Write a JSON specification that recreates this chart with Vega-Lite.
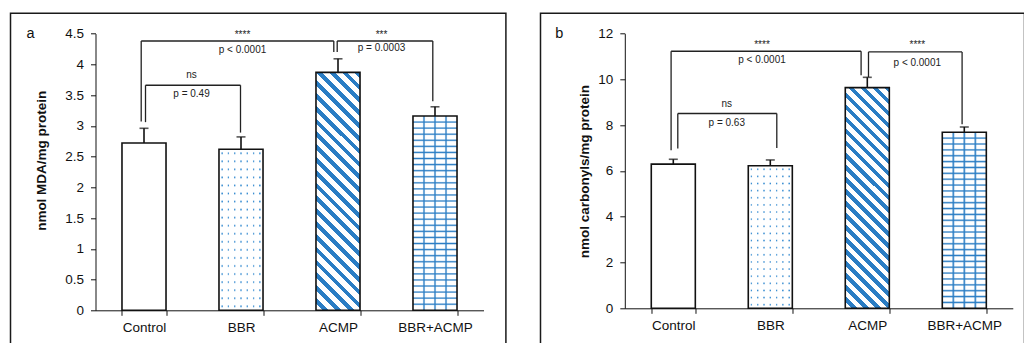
{
"$schema":"https://vega.github.io/schema/vega-lite/v6.json",
"padding":{"left":9.5,"top":12.3,"right":0,"bottom":0},
"background":"white",
"bounds":"flush",
"spacing":34,
"config":{
 "view":{"stroke":"#1a1a1a","strokeWidth":1.5},
 "font":"Liberation Sans",
 "axis":{"grid":false,"domainColor":"#111","tickColor":"#111","tickSize":5,"labelColor":"#111","labelFont":"Liberation Sans","labelFontSize":13.5,"titleFont":"Liberation Sans","titleColor":"#111","titleFontSize":13.5,"titleFontWeight":"bold"}
},
"datasets":{
 "barsA":[{"group":"Control","mean":2.72,"upper":2.96},{"group":"BBR","mean":2.62,"upper":2.82},{"group":"ACMP","mean":3.87,"upper":4.09},{"group":"BBR+ACMP","mean":3.16,"upper":3.31}],
 "barsB":[{"group":"Control","mean":6.30,"upper":6.51},{"group":"BBR","mean":6.23,"upper":6.48},{"group":"ACMP","mean":9.64,"upper":10.09},{"group":"BBR+ACMP","mean":7.69,"upper":7.92}],
 "brA":[{"id":"B1","from":"Control","to":"ACMP","level":4.38,"fromEnd":3.07,"toEnd":4.2},{"id":"B2","from":"ACMP","to":"BBR+ACMP","level":4.38,"fromEnd":4.2,"toEnd":3.4},{"id":"B3","from":"Control","to":"BBR","level":3.66,"fromEnd":3.06,"toEnd":2.89}],
 "brB":[{"id":"B1","from":"Control","to":"ACMP","level":11.23,"fromEnd":6.9,"toEnd":10.18},{"id":"B2","from":"ACMP","to":"BBR+ACMP","level":11.2,"fromEnd":10.1,"toEnd":8.04},{"id":"B3","from":"Control","to":"BBR","level":8.51,"fromEnd":6.98,"toEnd":7.0}],
 "txA":[{"id":"B1","from":"Control","label":"****","level":4.47},{"id":"B1","from":"Control","label":"p < 0.0001","level":4.23},{"id":"B2","from":"ACMP","label":"***","level":4.47},{"id":"B2","from":"ACMP","label":"p = 0.0003","level":4.26},{"id":"B3","from":"Control","label":"ns","level":3.82},{"id":"B3","from":"Control","label":"p = 0.49","level":3.51}],
 "txB":[{"id":"B1","from":"Control","label":"****","level":11.51},{"id":"B1","from":"Control","label":"p < 0.0001","level":10.83},{"id":"B2","from":"ACMP","label":"****","level":11.51},{"id":"B2","from":"ACMP","label":"p < 0.0001","level":10.73},{"id":"B3","from":"Control","label":"ns","level":8.92},{"id":"B3","from":"Control","label":"p = 0.63","level":8.08}]
},
"hconcat":[
{
 "width":495.4,"height":335,
 "title":{"text":"a","anchor":"start","frame":"group","orient":"top","offset":0,"dx":16,"dy":39.2,"baseline":"alphabetic","fontSize":14.5,"fontWeight":"normal","font":"Liberation Sans","color":"#111"},
 "resolve":{"axis":{"x":"independent","y":"independent"}},
 "layer":[
  {"data":{"name":"barsA"},"mark":{"type":"bar","fill":"#fff"},
   "encoding":{
    "x":{"field":"group","type":"nominal","scale":{"type":"band","domain":["Control","BBR","ACMP","BBR+ACMP"],"range":[85,473],"paddingInner":0.546,"paddingOuter":0.273},
         "axis":{"title":null,"offset":-38,"tickBand":"extent","labelPadding":5,"labelAngle":0}},
    "y":{"field":"mean","type":"quantitative","scale":{"domain":[0,4.5],"range":[297,20.3],"nice":false,"zero":false},
         "axis":{"values":[0,0.5,1,1.5,2,2.5,3,3.5,4,4.5],"format":"~g","offset":-85,"labelPadding":7,"title":"nmol MDA/mg protein","titleX":-50.5,"titleY":147,"titleAngle":270,"titleAlign":"center","titleBaseline":"alphabetic"}}}},
  {"data":{"name":"barsA"},"transform":[{"filter":"datum.group==='BBR'"}],
   "mark":{"type":"bar","fill":{"gradient":"linear","x1":0,"y1":0,"x2":1,"y2":0,"stops":[{"offset":0,"color":"#fff"},{"offset":0.0464,"color":"#fff"},{"offset":0.0634,"color":"#3a8ed2"},{"offset":0.0794,"color":"#3a8ed2"},{"offset":0.0964,"color":"#fff"},{"offset":0.1893,"color":"#fff"},{"offset":0.2063,"color":"#3a8ed2"},{"offset":0.2223,"color":"#3a8ed2"},{"offset":0.2393,"color":"#fff"},{"offset":0.3321,"color":"#fff"},{"offset":0.3491,"color":"#3a8ed2"},{"offset":0.3651,"color":"#3a8ed2"},{"offset":0.3821,"color":"#fff"},{"offset":0.475,"color":"#fff"},{"offset":0.492,"color":"#3a8ed2"},{"offset":0.508,"color":"#3a8ed2"},{"offset":0.525,"color":"#fff"},{"offset":0.6179,"color":"#fff"},{"offset":0.6349,"color":"#3a8ed2"},{"offset":0.6509,"color":"#3a8ed2"},{"offset":0.6679,"color":"#fff"},{"offset":0.7607,"color":"#fff"},{"offset":0.7777,"color":"#3a8ed2"},{"offset":0.7937,"color":"#3a8ed2"},{"offset":0.8107,"color":"#fff"},{"offset":0.9036,"color":"#fff"},{"offset":0.9206,"color":"#3a8ed2"},{"offset":0.9366,"color":"#3a8ed2"},{"offset":0.9536,"color":"#fff"},{"offset":1,"color":"#fff"}]}},
   "encoding":{"x":{"field":"group","type":"nominal","axis":null},"y":{"field":"mean","type":"quantitative","axis":null}}},
  {"data":{"name":"barsA"},"transform":[{"filter":"datum.group==='BBR'"}],
   "mark":{"type":"bar","fill":{"gradient":"linear","x1":0,"y1":0,"x2":0,"y2":1,"stops":[{"offset":0.015,"color":"#fff"},{"offset":0.025,"color":"rgba(255,255,255,0)"},{"offset":0.035,"color":"#fff"},{"offset":0.065,"color":"#fff"},{"offset":0.075,"color":"rgba(255,255,255,0)"},{"offset":0.085,"color":"#fff"},{"offset":0.115,"color":"#fff"},{"offset":0.125,"color":"rgba(255,255,255,0)"},{"offset":0.135,"color":"#fff"},{"offset":0.165,"color":"#fff"},{"offset":0.175,"color":"rgba(255,255,255,0)"},{"offset":0.185,"color":"#fff"},{"offset":0.215,"color":"#fff"},{"offset":0.225,"color":"rgba(255,255,255,0)"},{"offset":0.235,"color":"#fff"},{"offset":0.265,"color":"#fff"},{"offset":0.275,"color":"rgba(255,255,255,0)"},{"offset":0.285,"color":"#fff"},{"offset":0.315,"color":"#fff"},{"offset":0.325,"color":"rgba(255,255,255,0)"},{"offset":0.335,"color":"#fff"},{"offset":0.365,"color":"#fff"},{"offset":0.375,"color":"rgba(255,255,255,0)"},{"offset":0.385,"color":"#fff"},{"offset":0.415,"color":"#fff"},{"offset":0.425,"color":"rgba(255,255,255,0)"},{"offset":0.435,"color":"#fff"},{"offset":0.465,"color":"#fff"},{"offset":0.475,"color":"rgba(255,255,255,0)"},{"offset":0.485,"color":"#fff"},{"offset":0.515,"color":"#fff"},{"offset":0.525,"color":"rgba(255,255,255,0)"},{"offset":0.535,"color":"#fff"},{"offset":0.565,"color":"#fff"},{"offset":0.575,"color":"rgba(255,255,255,0)"},{"offset":0.585,"color":"#fff"},{"offset":0.615,"color":"#fff"},{"offset":0.625,"color":"rgba(255,255,255,0)"},{"offset":0.635,"color":"#fff"},{"offset":0.665,"color":"#fff"},{"offset":0.675,"color":"rgba(255,255,255,0)"},{"offset":0.685,"color":"#fff"},{"offset":0.715,"color":"#fff"},{"offset":0.725,"color":"rgba(255,255,255,0)"},{"offset":0.735,"color":"#fff"},{"offset":0.765,"color":"#fff"},{"offset":0.775,"color":"rgba(255,255,255,0)"},{"offset":0.785,"color":"#fff"},{"offset":0.815,"color":"#fff"},{"offset":0.825,"color":"rgba(255,255,255,0)"},{"offset":0.835,"color":"#fff"},{"offset":0.865,"color":"#fff"},{"offset":0.875,"color":"rgba(255,255,255,0)"},{"offset":0.885,"color":"#fff"},{"offset":0.915,"color":"#fff"},{"offset":0.925,"color":"rgba(255,255,255,0)"},{"offset":0.935,"color":"#fff"},{"offset":0.965,"color":"#fff"},{"offset":0.975,"color":"rgba(255,255,255,0)"},{"offset":0.985,"color":"#fff"}]}},
   "encoding":{"x":{"field":"group","type":"nominal","axis":null},"y":{"field":"mean","type":"quantitative","axis":null}}},
  {"data":{"name":"barsA"},"transform":[{"filter":"datum.group==='ACMP'"}],
   "mark":{"type":"bar","fill":{"gradient":"linear","x1":1,"y1":0,"x2":0.788,"y2":1.1458,"stops":[{"offset":0,"color":"#2a7dc4"},{"offset":0.0205,"color":"#2a7dc4"},{"offset":0.0205,"color":"#fff"},{"offset":0.0455,"color":"#fff"},{"offset":0.0455,"color":"#2a7dc4"},{"offset":0.0659,"color":"#2a7dc4"},{"offset":0.0659,"color":"#fff"},{"offset":0.0909,"color":"#fff"},{"offset":0.0909,"color":"#2a7dc4"},{"offset":0.1114,"color":"#2a7dc4"},{"offset":0.1114,"color":"#fff"},{"offset":0.1364,"color":"#fff"},{"offset":0.1364,"color":"#2a7dc4"},{"offset":0.1568,"color":"#2a7dc4"},{"offset":0.1568,"color":"#fff"},{"offset":0.1818,"color":"#fff"},{"offset":0.1818,"color":"#2a7dc4"},{"offset":0.2023,"color":"#2a7dc4"},{"offset":0.2023,"color":"#fff"},{"offset":0.2273,"color":"#fff"},{"offset":0.2273,"color":"#2a7dc4"},{"offset":0.2477,"color":"#2a7dc4"},{"offset":0.2477,"color":"#fff"},{"offset":0.2727,"color":"#fff"},{"offset":0.2727,"color":"#2a7dc4"},{"offset":0.2932,"color":"#2a7dc4"},{"offset":0.2932,"color":"#fff"},{"offset":0.3182,"color":"#fff"},{"offset":0.3182,"color":"#2a7dc4"},{"offset":0.3386,"color":"#2a7dc4"},{"offset":0.3386,"color":"#fff"},{"offset":0.3636,"color":"#fff"},{"offset":0.3636,"color":"#2a7dc4"},{"offset":0.3841,"color":"#2a7dc4"},{"offset":0.3841,"color":"#fff"},{"offset":0.4091,"color":"#fff"},{"offset":0.4091,"color":"#2a7dc4"},{"offset":0.4295,"color":"#2a7dc4"},{"offset":0.4295,"color":"#fff"},{"offset":0.4545,"color":"#fff"},{"offset":0.4545,"color":"#2a7dc4"},{"offset":0.475,"color":"#2a7dc4"},{"offset":0.475,"color":"#fff"},{"offset":0.5,"color":"#fff"},{"offset":0.5,"color":"#2a7dc4"},{"offset":0.5205,"color":"#2a7dc4"},{"offset":0.5205,"color":"#fff"},{"offset":0.5455,"color":"#fff"},{"offset":0.5455,"color":"#2a7dc4"},{"offset":0.5659,"color":"#2a7dc4"},{"offset":0.5659,"color":"#fff"},{"offset":0.5909,"color":"#fff"},{"offset":0.5909,"color":"#2a7dc4"},{"offset":0.6114,"color":"#2a7dc4"},{"offset":0.6114,"color":"#fff"},{"offset":0.6364,"color":"#fff"},{"offset":0.6364,"color":"#2a7dc4"},{"offset":0.6568,"color":"#2a7dc4"},{"offset":0.6568,"color":"#fff"},{"offset":0.6818,"color":"#fff"},{"offset":0.6818,"color":"#2a7dc4"},{"offset":0.7023,"color":"#2a7dc4"},{"offset":0.7023,"color":"#fff"},{"offset":0.7273,"color":"#fff"},{"offset":0.7273,"color":"#2a7dc4"},{"offset":0.7477,"color":"#2a7dc4"},{"offset":0.7477,"color":"#fff"},{"offset":0.7727,"color":"#fff"},{"offset":0.7727,"color":"#2a7dc4"},{"offset":0.7932,"color":"#2a7dc4"},{"offset":0.7932,"color":"#fff"},{"offset":0.8182,"color":"#fff"},{"offset":0.8182,"color":"#2a7dc4"},{"offset":0.8386,"color":"#2a7dc4"},{"offset":0.8386,"color":"#fff"},{"offset":0.8636,"color":"#fff"},{"offset":0.8636,"color":"#2a7dc4"},{"offset":0.8841,"color":"#2a7dc4"},{"offset":0.8841,"color":"#fff"},{"offset":0.9091,"color":"#fff"},{"offset":0.9091,"color":"#2a7dc4"},{"offset":0.9295,"color":"#2a7dc4"},{"offset":0.9295,"color":"#fff"},{"offset":0.9545,"color":"#fff"},{"offset":0.9545,"color":"#2a7dc4"},{"offset":0.975,"color":"#2a7dc4"},{"offset":0.975,"color":"#fff"},{"offset":1,"color":"#fff"}]}},
   "encoding":{"x":{"field":"group","type":"nominal","axis":null},"y":{"field":"mean","type":"quantitative","axis":null}}},
  {"data":{"name":"barsA"},"transform":[{"filter":"datum.group==='BBR+ACMP'"}],
   "mark":{"type":"bar","fill":{"gradient":"linear","x1":0,"y1":0,"x2":0,"y2":1,"stops":[{"offset":0.0243,"color":"#fff"},{"offset":0.0313,"color":"#2a7dc4"},{"offset":0.0383,"color":"#fff"},{"offset":0.0555,"color":"#fff"},{"offset":0.0625,"color":"#2a7dc4"},{"offset":0.0695,"color":"#fff"},{"offset":0.0868,"color":"#fff"},{"offset":0.0938,"color":"#2a7dc4"},{"offset":0.1008,"color":"#fff"},{"offset":0.118,"color":"#fff"},{"offset":0.125,"color":"#2a7dc4"},{"offset":0.132,"color":"#fff"},{"offset":0.1493,"color":"#fff"},{"offset":0.1563,"color":"#2a7dc4"},{"offset":0.1633,"color":"#fff"},{"offset":0.1805,"color":"#fff"},{"offset":0.1875,"color":"#2a7dc4"},{"offset":0.1945,"color":"#fff"},{"offset":0.2118,"color":"#fff"},{"offset":0.2188,"color":"#2a7dc4"},{"offset":0.2258,"color":"#fff"},{"offset":0.243,"color":"#fff"},{"offset":0.25,"color":"#2a7dc4"},{"offset":0.257,"color":"#fff"},{"offset":0.2743,"color":"#fff"},{"offset":0.2813,"color":"#2a7dc4"},{"offset":0.2883,"color":"#fff"},{"offset":0.3055,"color":"#fff"},{"offset":0.3125,"color":"#2a7dc4"},{"offset":0.3195,"color":"#fff"},{"offset":0.3368,"color":"#fff"},{"offset":0.3438,"color":"#2a7dc4"},{"offset":0.3508,"color":"#fff"},{"offset":0.368,"color":"#fff"},{"offset":0.375,"color":"#2a7dc4"},{"offset":0.382,"color":"#fff"},{"offset":0.3993,"color":"#fff"},{"offset":0.4063,"color":"#2a7dc4"},{"offset":0.4133,"color":"#fff"},{"offset":0.4305,"color":"#fff"},{"offset":0.4375,"color":"#2a7dc4"},{"offset":0.4445,"color":"#fff"},{"offset":0.4618,"color":"#fff"},{"offset":0.4688,"color":"#2a7dc4"},{"offset":0.4758,"color":"#fff"},{"offset":0.493,"color":"#fff"},{"offset":0.5,"color":"#2a7dc4"},{"offset":0.507,"color":"#fff"},{"offset":0.5243,"color":"#fff"},{"offset":0.5313,"color":"#2a7dc4"},{"offset":0.5383,"color":"#fff"},{"offset":0.5555,"color":"#fff"},{"offset":0.5625,"color":"#2a7dc4"},{"offset":0.5695,"color":"#fff"},{"offset":0.5868,"color":"#fff"},{"offset":0.5938,"color":"#2a7dc4"},{"offset":0.6008,"color":"#fff"},{"offset":0.618,"color":"#fff"},{"offset":0.625,"color":"#2a7dc4"},{"offset":0.632,"color":"#fff"},{"offset":0.6493,"color":"#fff"},{"offset":0.6563,"color":"#2a7dc4"},{"offset":0.6633,"color":"#fff"},{"offset":0.6805,"color":"#fff"},{"offset":0.6875,"color":"#2a7dc4"},{"offset":0.6945,"color":"#fff"},{"offset":0.7118,"color":"#fff"},{"offset":0.7188,"color":"#2a7dc4"},{"offset":0.7258,"color":"#fff"},{"offset":0.743,"color":"#fff"},{"offset":0.75,"color":"#2a7dc4"},{"offset":0.757,"color":"#fff"},{"offset":0.7743,"color":"#fff"},{"offset":0.7813,"color":"#2a7dc4"},{"offset":0.7883,"color":"#fff"},{"offset":0.8055,"color":"#fff"},{"offset":0.8125,"color":"#2a7dc4"},{"offset":0.8195,"color":"#fff"},{"offset":0.8368,"color":"#fff"},{"offset":0.8438,"color":"#2a7dc4"},{"offset":0.8508,"color":"#fff"},{"offset":0.868,"color":"#fff"},{"offset":0.875,"color":"#2a7dc4"},{"offset":0.882,"color":"#fff"},{"offset":0.8993,"color":"#fff"},{"offset":0.9063,"color":"#2a7dc4"},{"offset":0.9133,"color":"#fff"},{"offset":0.9305,"color":"#fff"},{"offset":0.9375,"color":"#2a7dc4"},{"offset":0.9445,"color":"#fff"},{"offset":0.9618,"color":"#fff"},{"offset":0.9688,"color":"#2a7dc4"},{"offset":0.9758,"color":"#fff"}]}},
   "encoding":{"x":{"field":"group","type":"nominal","axis":null},"y":{"field":"mean","type":"quantitative","axis":null}}},
  {"data":{"name":"barsA"},"transform":[{"filter":"datum.group==='BBR+ACMP'"}],
   "mark":{"type":"bar","fill":{"gradient":"linear","x1":0,"y1":0,"x2":1,"y2":0,"stops":[{"offset":0.215,"color":"rgba(42,125,196,0)"},{"offset":0.25,"color":"#2a7dc4"},{"offset":0.285,"color":"rgba(42,125,196,0)"},{"offset":0.465,"color":"rgba(42,125,196,0)"},{"offset":0.5,"color":"#2a7dc4"},{"offset":0.535,"color":"rgba(42,125,196,0)"},{"offset":0.715,"color":"rgba(42,125,196,0)"},{"offset":0.75,"color":"#2a7dc4"},{"offset":0.785,"color":"rgba(42,125,196,0)"}]}},
   "encoding":{"x":{"field":"group","type":"nominal","axis":null},"y":{"field":"mean","type":"quantitative","axis":null}}},
  {"data":{"name":"barsA"},"mark":{"type":"bar","fill":"#fff","fillOpacity":0,"stroke":"#111","strokeWidth":1.6},
   "encoding":{"x":{"field":"group","type":"nominal","axis":null},"y":{"field":"mean","type":"quantitative","axis":null}}},
  {"data":{"name":"barsA"},"mark":{"type":"rule","color":"#111","strokeWidth":1.6},
   "encoding":{"x":{"field":"group","type":"nominal","axis":null},"y":{"field":"mean","type":"quantitative","axis":null},"y2":{"field":"upper"}}},
  {"data":{"name":"barsA"},"mark":{"type":"tick","color":"#111","size":9,"thickness":1.6},
   "encoding":{"x":{"field":"group","type":"nominal","axis":null},"y":{"field":"upper","type":"quantitative","axis":null}}},
  {"data":{"name":"brA"},"mark":{"type":"rule","color":"#222","strokeWidth":1.3,"xOffset":{"expr":"datum.id==='B1' ? -2.8 : datum.id==='B2' ? -0.8 : 1.5"},"x2Offset":{"expr":"datum.id==='B1' ? -4.2 : datum.id==='B2' ? -2.2 : -0.5"}},
   "encoding":{"x":{"field":"from","type":"nominal","axis":null},"x2":{"field":"to"},"y":{"field":"level","type":"quantitative","axis":null}}},
  {"data":{"name":"brA"},"mark":{"type":"rule","color":"#222","strokeWidth":1.3,"xOffset":{"expr":"datum.id==='B1' ? -2.8 : datum.id==='B2' ? -0.8 : 1.5"}},
   "encoding":{"x":{"field":"from","type":"nominal","axis":null},"y":{"field":"fromEnd","type":"quantitative","axis":null},"y2":{"field":"level"}}},
  {"data":{"name":"brA"},"mark":{"type":"rule","color":"#222","strokeWidth":1.3,"xOffset":{"expr":"datum.id==='B1' ? -4.2 : datum.id==='B2' ? -2.2 : -0.5"}},
   "encoding":{"x":{"field":"to","type":"nominal","axis":null},"y":{"field":"toEnd","type":"quantitative","axis":null},"y2":{"field":"level"}}},
  {"data":{"name":"txA"},"mark":{"type":"text","font":"Liberation Sans","fontSize":10,"color":"#222","baseline":"middle","align":"center","xOffset":{"expr":"datum.id==='B1' ? 98.5 : datum.id==='B2' ? 43.5 : 47.5"}},
   "encoding":{"x":{"field":"from","type":"nominal","axis":null},"y":{"field":"level","type":"quantitative","axis":null},"text":{"field":"label"}}}
 ]
},
{
 "width":484,"height":335,
 "title":{"text":"b","anchor":"start","frame":"group","orient":"top","offset":0,"dx":14.7,"dy":39.5,"baseline":"alphabetic","fontSize":14.5,"fontWeight":"normal","font":"Liberation Sans","color":"#111"},
 "resolve":{"axis":{"x":"independent","y":"independent"}},
 "layer":[
  {"data":{"name":"barsB"},"mark":{"type":"bar","fill":"#fff"},
   "encoding":{
    "x":{"field":"group","type":"nominal","scale":{"type":"band","domain":["Control","BBR","ACMP","BBR+ACMP"],"range":[84.3,472.3],"paddingInner":0.546,"paddingOuter":0.273},
         "axis":{"title":null,"offset":-40,"tickBand":"extent","labelPadding":5,"labelAngle":0}},
    "y":{"field":"mean","type":"quantitative","scale":{"domain":[0,12],"range":[295,20.3],"nice":false,"zero":false},
         "axis":{"values":[0,2,4,6,8,10,12],"format":"d","offset":-84.3,"labelPadding":7,"title":"nmol carbonyls/mg protein","titleX":-36,"titleY":157.8,"titleAngle":270,"titleAlign":"center","titleBaseline":"alphabetic"}}}},
  {"data":{"name":"barsB"},"transform":[{"filter":"datum.group==='BBR'"}],
   "mark":{"type":"bar","fill":{"gradient":"linear","x1":0,"y1":0,"x2":1,"y2":0,"stops":[{"offset":0,"color":"#fff"},{"offset":0.0464,"color":"#fff"},{"offset":0.0634,"color":"#3a8ed2"},{"offset":0.0794,"color":"#3a8ed2"},{"offset":0.0964,"color":"#fff"},{"offset":0.1893,"color":"#fff"},{"offset":0.2063,"color":"#3a8ed2"},{"offset":0.2223,"color":"#3a8ed2"},{"offset":0.2393,"color":"#fff"},{"offset":0.3321,"color":"#fff"},{"offset":0.3491,"color":"#3a8ed2"},{"offset":0.3651,"color":"#3a8ed2"},{"offset":0.3821,"color":"#fff"},{"offset":0.475,"color":"#fff"},{"offset":0.492,"color":"#3a8ed2"},{"offset":0.508,"color":"#3a8ed2"},{"offset":0.525,"color":"#fff"},{"offset":0.6179,"color":"#fff"},{"offset":0.6349,"color":"#3a8ed2"},{"offset":0.6509,"color":"#3a8ed2"},{"offset":0.6679,"color":"#fff"},{"offset":0.7607,"color":"#fff"},{"offset":0.7777,"color":"#3a8ed2"},{"offset":0.7937,"color":"#3a8ed2"},{"offset":0.8107,"color":"#fff"},{"offset":0.9036,"color":"#fff"},{"offset":0.9206,"color":"#3a8ed2"},{"offset":0.9366,"color":"#3a8ed2"},{"offset":0.9536,"color":"#fff"},{"offset":1,"color":"#fff"}]}},
   "encoding":{"x":{"field":"group","type":"nominal","axis":null},"y":{"field":"mean","type":"quantitative","axis":null}}},
  {"data":{"name":"barsB"},"transform":[{"filter":"datum.group==='BBR'"}],
   "mark":{"type":"bar","fill":{"gradient":"linear","x1":0,"y1":0,"x2":0,"y2":1,"stops":[{"offset":0.015,"color":"#fff"},{"offset":0.025,"color":"rgba(255,255,255,0)"},{"offset":0.035,"color":"#fff"},{"offset":0.065,"color":"#fff"},{"offset":0.075,"color":"rgba(255,255,255,0)"},{"offset":0.085,"color":"#fff"},{"offset":0.115,"color":"#fff"},{"offset":0.125,"color":"rgba(255,255,255,0)"},{"offset":0.135,"color":"#fff"},{"offset":0.165,"color":"#fff"},{"offset":0.175,"color":"rgba(255,255,255,0)"},{"offset":0.185,"color":"#fff"},{"offset":0.215,"color":"#fff"},{"offset":0.225,"color":"rgba(255,255,255,0)"},{"offset":0.235,"color":"#fff"},{"offset":0.265,"color":"#fff"},{"offset":0.275,"color":"rgba(255,255,255,0)"},{"offset":0.285,"color":"#fff"},{"offset":0.315,"color":"#fff"},{"offset":0.325,"color":"rgba(255,255,255,0)"},{"offset":0.335,"color":"#fff"},{"offset":0.365,"color":"#fff"},{"offset":0.375,"color":"rgba(255,255,255,0)"},{"offset":0.385,"color":"#fff"},{"offset":0.415,"color":"#fff"},{"offset":0.425,"color":"rgba(255,255,255,0)"},{"offset":0.435,"color":"#fff"},{"offset":0.465,"color":"#fff"},{"offset":0.475,"color":"rgba(255,255,255,0)"},{"offset":0.485,"color":"#fff"},{"offset":0.515,"color":"#fff"},{"offset":0.525,"color":"rgba(255,255,255,0)"},{"offset":0.535,"color":"#fff"},{"offset":0.565,"color":"#fff"},{"offset":0.575,"color":"rgba(255,255,255,0)"},{"offset":0.585,"color":"#fff"},{"offset":0.615,"color":"#fff"},{"offset":0.625,"color":"rgba(255,255,255,0)"},{"offset":0.635,"color":"#fff"},{"offset":0.665,"color":"#fff"},{"offset":0.675,"color":"rgba(255,255,255,0)"},{"offset":0.685,"color":"#fff"},{"offset":0.715,"color":"#fff"},{"offset":0.725,"color":"rgba(255,255,255,0)"},{"offset":0.735,"color":"#fff"},{"offset":0.765,"color":"#fff"},{"offset":0.775,"color":"rgba(255,255,255,0)"},{"offset":0.785,"color":"#fff"},{"offset":0.815,"color":"#fff"},{"offset":0.825,"color":"rgba(255,255,255,0)"},{"offset":0.835,"color":"#fff"},{"offset":0.865,"color":"#fff"},{"offset":0.875,"color":"rgba(255,255,255,0)"},{"offset":0.885,"color":"#fff"},{"offset":0.915,"color":"#fff"},{"offset":0.925,"color":"rgba(255,255,255,0)"},{"offset":0.935,"color":"#fff"},{"offset":0.965,"color":"#fff"},{"offset":0.975,"color":"rgba(255,255,255,0)"},{"offset":0.985,"color":"#fff"}]}},
   "encoding":{"x":{"field":"group","type":"nominal","axis":null},"y":{"field":"mean","type":"quantitative","axis":null}}},
  {"data":{"name":"barsB"},"transform":[{"filter":"datum.group==='ACMP'"}],
   "mark":{"type":"bar","fill":{"gradient":"linear","x1":1,"y1":0,"x2":0.7698,"y2":1.1536,"stops":[{"offset":0,"color":"#2a7dc4"},{"offset":0.0205,"color":"#2a7dc4"},{"offset":0.0205,"color":"#fff"},{"offset":0.0455,"color":"#fff"},{"offset":0.0455,"color":"#2a7dc4"},{"offset":0.0659,"color":"#2a7dc4"},{"offset":0.0659,"color":"#fff"},{"offset":0.0909,"color":"#fff"},{"offset":0.0909,"color":"#2a7dc4"},{"offset":0.1114,"color":"#2a7dc4"},{"offset":0.1114,"color":"#fff"},{"offset":0.1364,"color":"#fff"},{"offset":0.1364,"color":"#2a7dc4"},{"offset":0.1568,"color":"#2a7dc4"},{"offset":0.1568,"color":"#fff"},{"offset":0.1818,"color":"#fff"},{"offset":0.1818,"color":"#2a7dc4"},{"offset":0.2023,"color":"#2a7dc4"},{"offset":0.2023,"color":"#fff"},{"offset":0.2273,"color":"#fff"},{"offset":0.2273,"color":"#2a7dc4"},{"offset":0.2477,"color":"#2a7dc4"},{"offset":0.2477,"color":"#fff"},{"offset":0.2727,"color":"#fff"},{"offset":0.2727,"color":"#2a7dc4"},{"offset":0.2932,"color":"#2a7dc4"},{"offset":0.2932,"color":"#fff"},{"offset":0.3182,"color":"#fff"},{"offset":0.3182,"color":"#2a7dc4"},{"offset":0.3386,"color":"#2a7dc4"},{"offset":0.3386,"color":"#fff"},{"offset":0.3636,"color":"#fff"},{"offset":0.3636,"color":"#2a7dc4"},{"offset":0.3841,"color":"#2a7dc4"},{"offset":0.3841,"color":"#fff"},{"offset":0.4091,"color":"#fff"},{"offset":0.4091,"color":"#2a7dc4"},{"offset":0.4295,"color":"#2a7dc4"},{"offset":0.4295,"color":"#fff"},{"offset":0.4545,"color":"#fff"},{"offset":0.4545,"color":"#2a7dc4"},{"offset":0.475,"color":"#2a7dc4"},{"offset":0.475,"color":"#fff"},{"offset":0.5,"color":"#fff"},{"offset":0.5,"color":"#2a7dc4"},{"offset":0.5205,"color":"#2a7dc4"},{"offset":0.5205,"color":"#fff"},{"offset":0.5455,"color":"#fff"},{"offset":0.5455,"color":"#2a7dc4"},{"offset":0.5659,"color":"#2a7dc4"},{"offset":0.5659,"color":"#fff"},{"offset":0.5909,"color":"#fff"},{"offset":0.5909,"color":"#2a7dc4"},{"offset":0.6114,"color":"#2a7dc4"},{"offset":0.6114,"color":"#fff"},{"offset":0.6364,"color":"#fff"},{"offset":0.6364,"color":"#2a7dc4"},{"offset":0.6568,"color":"#2a7dc4"},{"offset":0.6568,"color":"#fff"},{"offset":0.6818,"color":"#fff"},{"offset":0.6818,"color":"#2a7dc4"},{"offset":0.7023,"color":"#2a7dc4"},{"offset":0.7023,"color":"#fff"},{"offset":0.7273,"color":"#fff"},{"offset":0.7273,"color":"#2a7dc4"},{"offset":0.7477,"color":"#2a7dc4"},{"offset":0.7477,"color":"#fff"},{"offset":0.7727,"color":"#fff"},{"offset":0.7727,"color":"#2a7dc4"},{"offset":0.7932,"color":"#2a7dc4"},{"offset":0.7932,"color":"#fff"},{"offset":0.8182,"color":"#fff"},{"offset":0.8182,"color":"#2a7dc4"},{"offset":0.8386,"color":"#2a7dc4"},{"offset":0.8386,"color":"#fff"},{"offset":0.8636,"color":"#fff"},{"offset":0.8636,"color":"#2a7dc4"},{"offset":0.8841,"color":"#2a7dc4"},{"offset":0.8841,"color":"#fff"},{"offset":0.9091,"color":"#fff"},{"offset":0.9091,"color":"#2a7dc4"},{"offset":0.9295,"color":"#2a7dc4"},{"offset":0.9295,"color":"#fff"},{"offset":0.9545,"color":"#fff"},{"offset":0.9545,"color":"#2a7dc4"},{"offset":0.975,"color":"#2a7dc4"},{"offset":0.975,"color":"#fff"},{"offset":1,"color":"#fff"}]}},
   "encoding":{"x":{"field":"group","type":"nominal","axis":null},"y":{"field":"mean","type":"quantitative","axis":null}}},
  {"data":{"name":"barsB"},"transform":[{"filter":"datum.group==='BBR+ACMP'"}],
   "mark":{"type":"bar","fill":{"gradient":"linear","x1":0,"y1":0,"x2":0,"y2":1,"stops":[{"offset":0.0253,"color":"#fff"},{"offset":0.0333,"color":"#2a7dc4"},{"offset":0.0413,"color":"#fff"},{"offset":0.0587,"color":"#fff"},{"offset":0.0667,"color":"#2a7dc4"},{"offset":0.0747,"color":"#fff"},{"offset":0.092,"color":"#fff"},{"offset":0.1,"color":"#2a7dc4"},{"offset":0.108,"color":"#fff"},{"offset":0.1253,"color":"#fff"},{"offset":0.1333,"color":"#2a7dc4"},{"offset":0.1413,"color":"#fff"},{"offset":0.1587,"color":"#fff"},{"offset":0.1667,"color":"#2a7dc4"},{"offset":0.1747,"color":"#fff"},{"offset":0.192,"color":"#fff"},{"offset":0.2,"color":"#2a7dc4"},{"offset":0.208,"color":"#fff"},{"offset":0.2253,"color":"#fff"},{"offset":0.2333,"color":"#2a7dc4"},{"offset":0.2413,"color":"#fff"},{"offset":0.2587,"color":"#fff"},{"offset":0.2667,"color":"#2a7dc4"},{"offset":0.2747,"color":"#fff"},{"offset":0.292,"color":"#fff"},{"offset":0.3,"color":"#2a7dc4"},{"offset":0.308,"color":"#fff"},{"offset":0.3253,"color":"#fff"},{"offset":0.3333,"color":"#2a7dc4"},{"offset":0.3413,"color":"#fff"},{"offset":0.3587,"color":"#fff"},{"offset":0.3667,"color":"#2a7dc4"},{"offset":0.3747,"color":"#fff"},{"offset":0.392,"color":"#fff"},{"offset":0.4,"color":"#2a7dc4"},{"offset":0.408,"color":"#fff"},{"offset":0.4253,"color":"#fff"},{"offset":0.4333,"color":"#2a7dc4"},{"offset":0.4413,"color":"#fff"},{"offset":0.4587,"color":"#fff"},{"offset":0.4667,"color":"#2a7dc4"},{"offset":0.4747,"color":"#fff"},{"offset":0.492,"color":"#fff"},{"offset":0.5,"color":"#2a7dc4"},{"offset":0.508,"color":"#fff"},{"offset":0.5253,"color":"#fff"},{"offset":0.5333,"color":"#2a7dc4"},{"offset":0.5413,"color":"#fff"},{"offset":0.5587,"color":"#fff"},{"offset":0.5667,"color":"#2a7dc4"},{"offset":0.5747,"color":"#fff"},{"offset":0.592,"color":"#fff"},{"offset":0.6,"color":"#2a7dc4"},{"offset":0.608,"color":"#fff"},{"offset":0.6253,"color":"#fff"},{"offset":0.6333,"color":"#2a7dc4"},{"offset":0.6413,"color":"#fff"},{"offset":0.6587,"color":"#fff"},{"offset":0.6667,"color":"#2a7dc4"},{"offset":0.6747,"color":"#fff"},{"offset":0.692,"color":"#fff"},{"offset":0.7,"color":"#2a7dc4"},{"offset":0.708,"color":"#fff"},{"offset":0.7253,"color":"#fff"},{"offset":0.7333,"color":"#2a7dc4"},{"offset":0.7413,"color":"#fff"},{"offset":0.7587,"color":"#fff"},{"offset":0.7667,"color":"#2a7dc4"},{"offset":0.7747,"color":"#fff"},{"offset":0.792,"color":"#fff"},{"offset":0.8,"color":"#2a7dc4"},{"offset":0.808,"color":"#fff"},{"offset":0.8253,"color":"#fff"},{"offset":0.8333,"color":"#2a7dc4"},{"offset":0.8413,"color":"#fff"},{"offset":0.8587,"color":"#fff"},{"offset":0.8667,"color":"#2a7dc4"},{"offset":0.8747,"color":"#fff"},{"offset":0.892,"color":"#fff"},{"offset":0.9,"color":"#2a7dc4"},{"offset":0.908,"color":"#fff"},{"offset":0.9253,"color":"#fff"},{"offset":0.9333,"color":"#2a7dc4"},{"offset":0.9413,"color":"#fff"},{"offset":0.9587,"color":"#fff"},{"offset":0.9667,"color":"#2a7dc4"},{"offset":0.9747,"color":"#fff"}]}},
   "encoding":{"x":{"field":"group","type":"nominal","axis":null},"y":{"field":"mean","type":"quantitative","axis":null}}},
  {"data":{"name":"barsB"},"transform":[{"filter":"datum.group==='BBR+ACMP'"}],
   "mark":{"type":"bar","fill":{"gradient":"linear","x1":0,"y1":0,"x2":1,"y2":0,"stops":[{"offset":0.215,"color":"rgba(42,125,196,0)"},{"offset":0.25,"color":"#2a7dc4"},{"offset":0.285,"color":"rgba(42,125,196,0)"},{"offset":0.465,"color":"rgba(42,125,196,0)"},{"offset":0.5,"color":"#2a7dc4"},{"offset":0.535,"color":"rgba(42,125,196,0)"},{"offset":0.715,"color":"rgba(42,125,196,0)"},{"offset":0.75,"color":"#2a7dc4"},{"offset":0.785,"color":"rgba(42,125,196,0)"}]}},
   "encoding":{"x":{"field":"group","type":"nominal","axis":null},"y":{"field":"mean","type":"quantitative","axis":null}}},
  {"data":{"name":"barsB"},"mark":{"type":"bar","fill":"#fff","fillOpacity":0,"stroke":"#111","strokeWidth":1.6},
   "encoding":{"x":{"field":"group","type":"nominal","axis":null},"y":{"field":"mean","type":"quantitative","axis":null}}},
  {"data":{"name":"barsB"},"mark":{"type":"rule","color":"#111","strokeWidth":1.6},
   "encoding":{"x":{"field":"group","type":"nominal","axis":null},"y":{"field":"mean","type":"quantitative","axis":null},"y2":{"field":"upper"}}},
  {"data":{"name":"barsB"},"mark":{"type":"tick","color":"#111","size":9,"thickness":1.6},
   "encoding":{"x":{"field":"group","type":"nominal","axis":null},"y":{"field":"upper","type":"quantitative","axis":null}}},
  {"data":{"name":"brB"},"mark":{"type":"rule","color":"#222","strokeWidth":1.3,"xOffset":{"expr":"datum.id==='B1' ? -2.2 : datum.id==='B2' ? 1.2 : 4.5"},"x2Offset":{"expr":"datum.id==='B1' ? -6.2 : datum.id==='B2' ? -2.2 : 6.5"}},
   "encoding":{"x":{"field":"from","type":"nominal","axis":null},"x2":{"field":"to"},"y":{"field":"level","type":"quantitative","axis":null}}},
  {"data":{"name":"brB"},"mark":{"type":"rule","color":"#222","strokeWidth":1.3,"xOffset":{"expr":"datum.id==='B1' ? -2.2 : datum.id==='B2' ? 1.2 : 4.5"}},
   "encoding":{"x":{"field":"from","type":"nominal","axis":null},"y":{"field":"fromEnd","type":"quantitative","axis":null},"y2":{"field":"level"}}},
  {"data":{"name":"brB"},"mark":{"type":"rule","color":"#222","strokeWidth":1.3,"xOffset":{"expr":"datum.id==='B1' ? -6.2 : datum.id==='B2' ? -2.2 : 6.5"}},
   "encoding":{"x":{"field":"to","type":"nominal","axis":null},"y":{"field":"toEnd","type":"quantitative","axis":null},"y2":{"field":"level"}}},
  {"data":{"name":"txB"},"mark":{"type":"text","font":"Liberation Sans","fontSize":10,"color":"#222","baseline":"middle","align":"center","xOffset":{"expr":"datum.id==='B1' ? 88.7 : datum.id==='B2' ? 50 : 53.5"}},
   "encoding":{"x":{"field":"from","type":"nominal","axis":null},"y":{"field":"level","type":"quantitative","axis":null},"text":{"field":"label"}}}
 ]
}
]
}
